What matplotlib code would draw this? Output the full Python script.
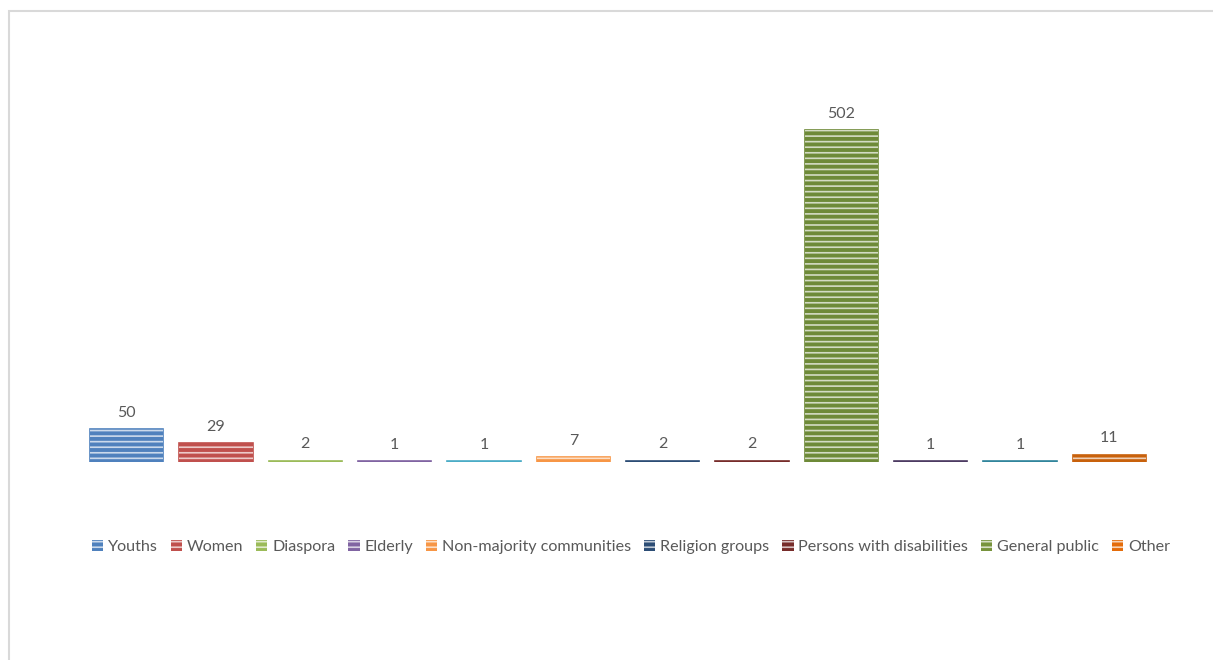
import matplotlib.pyplot as plt
from matplotlib.patches import Rectangle, Patch

plt.rcParams['font.family'] = ['Lato', 'DejaVu Sans']
plt.rcParams['hatch.linewidth'] = 1.2

categories = ["Youths", "Women", "Diaspora", "Elderly", "Aqua", "Non-majority communities",
              "Religion groups", "Persons with disabilities", "General public",
              "Purple2", "Aqua2", "Other"]
values = [50, 29, 2, 1, 1, 7, 2, 2, 502, 1, 1, 11]
colors = ["#4F81BD", "#C0504D", "#9BBB59", "#8064A2", "#4BACC6", "#F79646",
          "#2C4D75", "#772C2A", "#6E8A38", "#4D3B62", "#31859C", "#C8610C"]
legend_names = ["Youths", "Women", "Diaspora", "Elderly", "Non-majority communities",
                "Religion groups", "Persons with disabilities", "General public", "Other"]
legend_colors = ["#4F81BD", "#C0504D", "#9BBB59", "#8064A2", "#F79646",
                 "#2C4D75", "#772C2A", "#77933C", "#E46C0A"]

fig = plt.figure(figsize=(12.13, 6.6), dpi=100)
fig.patches.append(Rectangle((9 / 1213, -0.1), 1.2, 1 - 11 / 660 + 0.1,
                             transform=fig.transFigure, fill=False,
                             edgecolor="#D9D9D9", linewidth=1.5))

ax = fig.add_axes([82 / 1213, 1 - 462 / 660, 1072 / 1213, 397 / 660])
x = list(range(len(values)))
# solid bars with thin edge so the tiny values still show as a line
ax.bar(x, values, width=0.82, color=colors, edgecolor=colors, linewidth=1.2)
# stripe overlay
ax.bar(x, values, width=0.82, facecolor="none", edgecolor=(1, 1, 1, 0.7),
       linewidth=0, hatch="---")
for xi, v in zip(x, values):
    ax.text(xi, v + 14, str(v), ha="center", va="bottom", fontsize=11.5, color="#595959")

ax.set_xlim(-0.5, len(values) - 0.5)
ax.set_ylim(0, 600)
ax.axis("off")

handles = [Patch(facecolor=c, edgecolor=(1, 1, 1, 0.7), linewidth=0, hatch="---")
           for c in legend_colors]
fig.legend(handles, legend_names, loc="center", bbox_to_anchor=(631 / 1213, 1 - 547 / 660),
           ncol=9, frameon=False, fontsize=11.6, handlelength=0.7, handleheight=0.7,
           handletextpad=0.3, columnspacing=0.8, labelcolor="#595959")

fig.savefig("out.png", dpi=100)
